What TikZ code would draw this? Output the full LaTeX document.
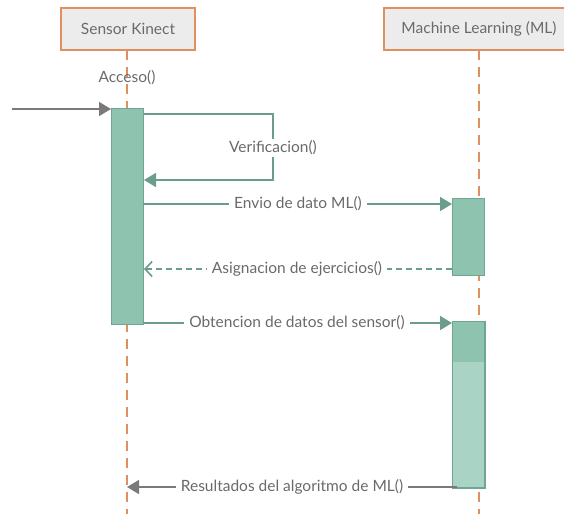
\documentclass[tikz,border=0pt]{standalone}
\usepackage{fontspec}
\setmainfont{Lato}
\usetikzlibrary{arrows.meta}
\definecolor{txt}{HTML}{6A6A6A}
\definecolor{orng}{HTML}{E0905F}
\definecolor{hdr}{HTML}{ECECEC}
\definecolor{actfill}{HTML}{8EC3B0}
\definecolor{actfilllt}{HTML}{A9D4C5}
\definecolor{actdraw}{HTML}{6FA591}
\definecolor{msg}{HTML}{6A9E8B}
\definecolor{gry}{HTML}{7A7A7A}
\tikzset{
  header/.style={draw=orng, line width=1.6pt, fill=hdr, inner sep=0pt, text=txt, font=\fontsize{15.5}{18}\selectfont},
  lifeline/.style={draw=orng, line width=1.6pt, dash pattern=on 10pt off 7pt},
  actbox/.style={draw=actdraw, line width=1pt, fill=actfill},
  msgline/.style={draw=msg, line width=1.6pt},
  lbl/.style={text=txt, font=\fontsize{15.5}{18}\selectfont, fill=white, inner xsep=5pt, inner ysep=2pt},
  filltip/.style={-{Triangle[length=12pt,width=14pt]}},
  opentip/.style={-{Straight Barb[length=7pt,width=15pt,line width=1.6pt]}},
}
\begin{document}
\begin{tikzpicture}[x=1pt,y=-1pt]
\useasboundingbox (0,0) rectangle (564,514);
\clip (0,0) rectangle (564,514);
% headers
\node[header, minimum width=134pt, minimum height=42pt] (sk) at (128,29) {Sensor Kinect};
\node[header, minimum width=190pt, minimum height=42pt] (ml) at (479,29) {Machine Learning (ML)};
% lifelines
\coordinate (skend) at (127,514);
\coordinate (mlend) at (479,514);
\draw[lifeline] (127,50) -- (skend);
\draw[lifeline] (479,50) -- (mlend);
% activation boxes
\node[actbox, minimum width=32pt, minimum height=216pt, inner sep=0pt, anchor=north west] (a1) at (111,108) {};
\node[actbox, minimum width=32pt, minimum height=77pt, inner sep=0pt, anchor=north west] (a2) at (452,198) {};
\node[actbox, minimum width=32pt, minimum height=166pt, inner sep=0pt, anchor=north west] (a3) at (452,321) {};
\fill[actfilllt] (452.5,362) rectangle (483.5,486.5);
\draw[actdraw, line width=1pt] (a3.north west) rectangle (a3.south east);
% Acceso
\node[text=txt, font=\fontsize{15.5}{18}\selectfont] (acc) at (127,78) {Acceso()};
\coordinate (start) at (12,109);
\draw[gry, line width=1.6pt, filltip] (start) -- (a1.north west |- start);
% self message
\coordinate (s1) at (273,114);
\coordinate (s2) at (273,180);
\draw[msgline, filltip] (a1.east |- s1) -- (s1) -- (s2) -- (a1.east |- s2);
\node[lbl] (ver) at (273,148) {Verificacion()};
% Envio
\coordinate (e1) at (143,204);
\draw[msgline, filltip] (e1) -- (a2.west |- e1);
\node[lbl] (env) at (298,204) {Envio de dato ML()};
% Asignacion
\coordinate (r1) at (452,269);
\draw[msgline, dashed, dash pattern=on 6pt off 4pt, opentip] (r1) -- (a1.east |- r1);
\node[lbl] (asg) at (297,269) {Asignacion de ejercicios()};
% Obtencion
\coordinate (o1) at (143,323);
\draw[msgline, filltip] (o1) -- (a3.west |- o1);
\node[lbl] (obt) at (297,323) {Obtencion de datos del sensor()};
% Resultados
\coordinate (res1) at (457,487);
\draw[gry, line width=1.6pt, filltip] (res1) -- (skend |- res1);
\node[lbl] (resl) at (292,487) {Resultados del algoritmo de ML()};
\end{tikzpicture}
\end{document}
